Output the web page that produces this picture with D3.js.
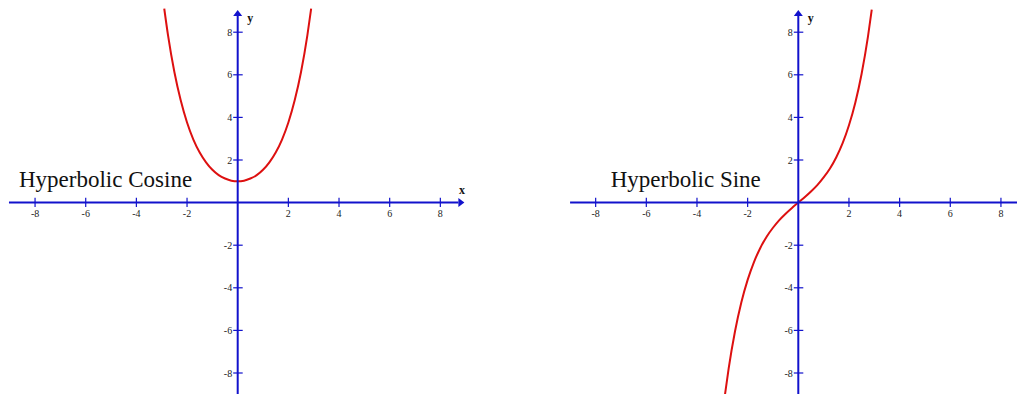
<!DOCTYPE html>
<html>
<head>
<meta charset="utf-8">
<script src="https://cdn.jsdelivr.net/npm/d3@7/dist/d3.min.js"></script>
<style>
  html, body { margin: 0; padding: 0; background: #fff; }
  svg { display: block; }
</style>
</head>
<body>
<svg id="chart" width="1017" height="394"></svg>
<script>
// Sampled x positions and the plotted function values
const xs = [-2.9, -2.75, -2.5, -2.25, -2, -1.75, -1.5, -1.25, -1, -0.75, -0.5, -0.25, 0,
            0.25, 0.5, 0.75, 1, 1.25, 1.5, 1.75, 2, 2.25, 2.5, 2.75, 2.9];
const coshValues = [9.11, 7.85, 6.13, 4.80, 3.76, 2.96, 2.35, 1.89, 1.54, 1.29, 1.13, 1.03, 1.00,
                    1.03, 1.13, 1.29, 1.54, 1.89, 2.35, 2.96, 3.76, 4.80, 6.13, 7.85, 9.11];
const sinhValues = [-9.06, -7.79, -6.05, -4.69, -3.63, -2.79, -2.13, -1.60, -1.18, -0.82, -0.52, -0.25, 0,
                    0.25, 0.52, 0.82, 1.18, 1.60, 2.13, 2.79, 3.63, 4.69, 6.05, 7.79, 9.06];

const tickValues = [-8, -6, -4, -2, 2, 4, 6, 8];
const tickLabels = ["-8", "-6", "-4", "-2", "2", "4", "6", "8"];

const panels = [
  { title: "Hyperbolic Cosine", values: coshValues, originX: 237.7, titleX: 19,    xMin: -9.03, xMax: 8.95, xName: true },
  { title: "Hyperbolic Sine",   values: sinhValues, originX: 798.3, titleX: 610.7, xMin: -9.01, xMax: 9.0,  xName: false }
];

const AXIS = "#1212cc";
const CURVE = "#dd1010";
const originY = 202.6;
const unitX = 25.33;
const unitY = 21.3;

const svg = d3.select("#chart");

panels.forEach(p => {
  const x = d3.scaleLinear().domain([0, 1]).range([p.originX, p.originX + unitX]);
  const y = d3.scaleLinear().domain([0, 1]).range([originY, originY - unitY]);
  const g = svg.append("g");

  // title
  g.append("text")
    .attr("x", p.titleX).attr("y", 187)
    .attr("font-family", "Liberation Serif, Times New Roman, serif")
    .attr("font-size", 23)
    .attr("fill", "#111")
    .text(p.title);

  // curve
  const line = d3.line()
    .x((d, i) => x(xs[i]))
    .y(d => y(d))
    .curve(d3.curveMonotoneX);
  g.append("path")
    .datum(p.values)
    .attr("d", line)
    .attr("fill", "none")
    .attr("stroke", CURVE)
    .attr("stroke-width", 2);

  // x axis with arrow
  const arrowLen = 6, arrowHalf = 4.5;
  const xEnd = x(p.xMax);
  g.append("line")
    .attr("x1", x(p.xMin)).attr("x2", xEnd - arrowLen)
    .attr("y1", y(0)).attr("y2", y(0))
    .attr("stroke", AXIS).attr("stroke-width", 2);
  g.append("path")
    .attr("d", `M${xEnd},${y(0)}L${xEnd - arrowLen},${y(0) - arrowHalf}L${xEnd - arrowLen},${y(0) + arrowHalf}Z`)
    .attr("fill", AXIS);

  // y axis with arrow
  const yTop = y(9.04);
  g.append("line")
    .attr("x1", x(0)).attr("x2", x(0))
    .attr("y1", y(-9.6)).attr("y2", yTop + arrowLen)
    .attr("stroke", AXIS).attr("stroke-width", 2);
  g.append("path")
    .attr("d", `M${x(0)},${yTop}L${x(0) - arrowHalf},${yTop + arrowLen}L${x(0) + arrowHalf},${yTop + arrowLen}Z`)
    .attr("fill", AXIS);

  // x ticks and labels
  tickValues.forEach((v, i) => {
    g.append("line")
      .attr("x1", x(v)).attr("x2", x(v))
      .attr("y1", y(0) - 4.8).attr("y2", y(0) + 4.5)
      .attr("stroke", AXIS).attr("stroke-width", 1.2);
    g.append("text")
      .attr("x", x(v)).attr("y", y(0) + 14)
      .attr("text-anchor", "middle")
      .attr("font-family", "Liberation Serif, Times New Roman, serif")
      .attr("font-size", 10)
      .attr("fill", "#222")
      .text(tickLabels[i]);
  });

  // y ticks and labels
  tickValues.forEach((v, i) => {
    g.append("line")
      .attr("x1", x(0) - 4.5).attr("x2", x(0) + 5)
      .attr("y1", y(v)).attr("y2", y(v))
      .attr("stroke", AXIS).attr("stroke-width", 1.2);
    g.append("text")
      .attr("x", x(0) - 5.5).attr("y", y(v) + 3.5)
      .attr("text-anchor", "end")
      .attr("font-family", "Liberation Serif, Times New Roman, serif")
      .attr("font-size", 10)
      .attr("fill", "#222")
      .text(tickLabels[i]);
  });

  // axis names
  g.append("text")
    .attr("x", x(0) + 9.5).attr("y", 22)
    .attr("font-family", "Liberation Serif, Times New Roman, serif")
    .attr("font-size", 12).attr("font-weight", "bold")
    .attr("fill", "#111")
    .text("y");
  if (p.xName) {
    g.append("text")
      .attr("x", x(8.74)).attr("y", y(0) - 8.5)
      .attr("font-family", "Liberation Serif, Times New Roman, serif")
      .attr("font-size", 12).attr("font-weight", "bold")
      .attr("fill", "#111")
      .text("x");
  }
});
</script>
</body>
</html>
